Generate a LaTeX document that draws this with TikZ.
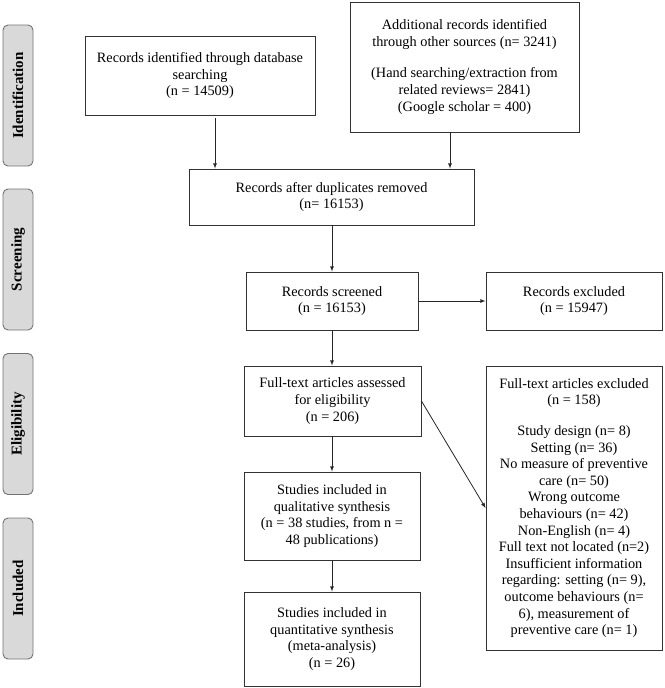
\documentclass[tikz,border=0pt]{standalone}
\usepackage{fontspec}
\setmainfont{Liberation Serif}
\usepackage{tikz}
\usetikzlibrary{arrows}
\usetikzlibrary{calc}
\usetikzlibrary{positioning}

\begin{document}
\begin{tikzpicture}[
	x=1pt, y=-1pt,
  > = latex,
  every node/.style = {font=\fontsize{14.3}{16.6}\selectfont},
  box/.style = {draw=black!80, line width=0.9pt, align=center, inner sep=2pt},
  lane/.style = {draw=black!55, fill=black!15, line width=0.9pt, rounded corners=5pt, rotate=90,
    minimum width=141, minimum height=30, inner sep=0pt, font=\fontsize{15}{17}\selectfont\bfseries},
  link/.style = {->, draw=black!85, line width=0.8pt}
  ]
	\useasboundingbox (0,0) rectangle (664,688);

	\coordinate (@id) at (18,95.5);
	\coordinate (@sc) at (18,259.5);
	\coordinate (@el) at (18,424);
	\coordinate (@in) at (18,588.5);

	\node[lane] (idlane) at (@id) {Identification};
	\node[lane] (sclane) at (@sc) {Screening};
	\node[lane] (ellane) at (@el) {Eligibility};
	\node[lane] (inlane) at (@in) {Included};

	\node[box, minimum width=230, minimum height=79] (db) at (200,75.5)
		{Records identified through database\\ searching\\ (n = 14509)};
	\node[box, minimum width=229, minimum height=130] (other) at (464.5,67)
		{Additional records identified\\ through other sources (n= 3241)\\[15pt]
		 (Hand searching/extraction from\\ related reviews= 2841)\\ (Google scholar = 400)};
	\node[box, minimum width=285, minimum height=56] (dup) at (331.5,197)
		{Records after duplicates removed\\ (n= 16153)};
	\node[box, minimum width=172, minimum height=58] (screened) at (332,301)
		{Records screened\\ (n = 16153)};
	\node[box, minimum width=176, minimum height=58] (excl) at (574,301)
		{Records excluded\\ (n = 15947)};
	\node[box, minimum width=177, minimum height=70] (fulltext) at (332.5,401)
		{Full-text articles assessed\\ for eligibility\\ (n = 206)};
	\node[box, minimum width=176, minimum height=284] (ftexcl) at (574,508)
		{Full-text articles excluded\\ (n = 158)\\[14pt]
		 Study design (n= 8)\\ Setting (n= 36)\\ No measure of preventive\\ care (n= 50)\\
		 Wrong outcome\\ behaviours (n= 42)\\ Non-English (n= 4)\\ Full text not located (n=2)\\
		 Insufficient information\\ regarding: setting (n= 9),\\ outcome behaviours (n=\\
		 6), measurement of\\ preventive care (n= 1)};
	\node[box, minimum width=176, minimum height=88] (qual) at (332,516)
		{Studies included in\\ qualitative synthesis\\ (n = 38 studies, from n =\\ 48 publications)};
	\node[box, minimum width=176, minimum height=94] (quant) at (332,639)
		{Studies included in\\ quantitative synthesis\\ (meta-analysis)\\ (n = 26)};

	\draw[link] ([xshift=15,yshift=-3]db.south) -- ([xshift=15]db.south |- dup.north);
	\draw[link] ([xshift=-14.5]other.south) -- ([xshift=-14.5]other.south |- dup.north);
	\draw[link] (dup.south -| screened.north) -- (screened.north);
	\draw[link] (screened.east) -- (excl.west);
	\draw[link] (screened.south) -- (screened.south |- fulltext.north);
	\draw[link] (fulltext.east) -- (ftexcl.west);
	\draw[link] (fulltext.south -| qual.north) -- (qual.north);
	\draw[link] (qual.south) -- (quant.north);

\end{tikzpicture}
\end{document}
